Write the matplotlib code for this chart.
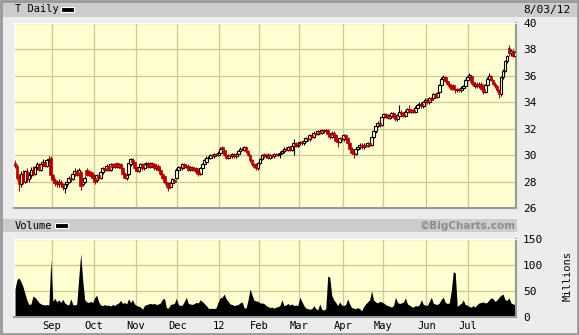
import matplotlib
matplotlib.use("Agg")
import matplotlib.pyplot as plt
import numpy as np
import pandas as pd
from matplotlib.patches import Rectangle

W, H = 579, 335
MONO = "DejaVu Sans Mono"

# trading days, Aug 5 2011 - Aug 3 2012 (NYSE holidays removed)
HOLIDAYS = ["2011-09-05", "2011-11-24", "2011-12-26", "2012-01-02", "2012-01-16",
            "2012-02-20", "2012-04-06", "2012-05-28", "2012-07-04"]
dates = pd.bdate_range("2011-08-05", "2012-08-03", freq="C", holidays=HOLIDAYS)

# --- daily OHLC (one line per month) ---
opens = [
    29.4, 29.2, 28.3, 27.8, 28.6, 28.0, 28.8, 28.2, 28.5, 28.9, 28.6, 29.1, 29.3, 28.9, 29.3, 29.5, 29.2, 29.6, 29.8,
    28.5, 28.1, 27.9, 27.8, 28.0, 27.8, 27.5, 27.8, 28.0, 28.3, 28.2, 28.6, 28.8, 28.5, 28.7, 27.8, 28.0, 28.9, 28.8, 28.7, 28.6,
    28.3, 28.1, 28.5, 28.3, 28.7, 29.0, 28.9, 29.2, 28.9, 29.3, 29.1, 29.4, 29.1, 29.3, 29.0, 28.6, 28.3, 28.6, 29.3, 29.6, 29.5,
    29.0, 28.8, 29.1, 29.3, 29.0, 29.3, 29.4, 29.1, 29.4, 29.3, 29.0, 29.2, 28.9, 28.6, 28.4, 28.0, 27.8, 27.6, 27.9, 28.1, 28.3,
    28.9, 29.1, 29.0, 29.3, 29.1, 29.2, 28.9, 29.1, 28.9, 29.0, 28.7, 28.6, 29.0, 29.3, 29.5, 29.8, 29.8, 30.0, 29.9, 30.1, 30.0,
    30.2, 30.6, 30.4, 30.0, 29.8, 30.0, 29.9, 30.1, 29.9, 30.1, 30.3, 30.5, 30.4, 30.6, 30.3, 30.0, 29.6, 29.3, 29.3, 29.0,
    29.4, 29.7, 30.1, 29.9, 30.1, 29.8, 30.0, 29.9, 30.1, 30.0, 30.1, 30.2, 30.3, 30.5, 30.4, 30.6, 30.4, 30.7, 30.9, 30.7,
    30.9, 31.0, 30.9, 31.1, 31.3, 31.2, 31.5, 31.4, 31.7, 31.6, 31.8, 31.7, 31.9, 31.8, 31.9, 31.6, 31.4, 31.7, 31.5, 31.1, 31.0, 31.3,
    31.2, 31.5, 31.3, 30.9, 30.5, 30.2, 30.1, 30.5, 30.6, 30.8, 30.6, 30.8, 30.7, 30.9, 30.8, 31.4, 31.8, 32.2, 32.4, 32.3,
    32.9, 33.1, 33.0, 32.8, 33.0, 33.2, 32.9, 32.7, 33.0, 33.3, 33.1, 33.0, 33.3, 33.5, 33.3, 33.4, 33.3, 33.6, 33.8, 33.9, 33.7, 34.0,
    34.2, 34.0, 34.3, 34.3, 34.6, 34.4, 34.8, 35.3, 35.8, 35.9, 35.6, 35.4, 35.3, 35.3, 35.0, 34.9, 35.0, 34.9, 35.1, 35.2, 35.7,
    35.9, 36.0, 35.5, 35.2, 35.4, 35.2, 35.4, 35.0, 34.8, 35.3, 35.8, 36.0, 35.7, 35.4, 35.2, 34.9, 34.6, 35.9, 36.4, 37.1, 38.1,
    37.7, 37.9, 37.5,
]
closes = [
    29.2, 28.3, 27.8, 28.6, 28.0, 28.8, 28.2, 28.5, 28.9, 28.6, 29.1, 29.3, 28.9, 29.3, 29.5, 29.2, 29.6, 29.7, 28.5,
    28.1, 27.9, 27.8, 28.0, 27.8, 27.6, 27.8, 28.0, 28.3, 28.2, 28.6, 28.8, 28.5, 28.9, 27.7, 28.2, 28.3, 28.5, 28.5, 28.4, 28.3,
    28.0, 28.5, 28.3, 28.7, 29.0, 28.9, 29.2, 28.9, 29.3, 29.1, 29.3, 29.1, 29.3, 29.0, 28.6, 28.3, 28.5, 29.4, 29.7, 29.5, 29.0,
    28.8, 29.1, 29.3, 29.0, 29.3, 29.4, 29.1, 29.4, 29.2, 29.0, 29.2, 28.9, 28.6, 28.3, 28.0, 27.8, 27.5, 27.9, 28.2, 28.0, 28.9,
    29.1, 29.0, 29.3, 29.1, 29.2, 28.9, 29.1, 28.9, 29.0, 28.7, 28.6, 29.0, 29.3, 29.6, 29.8, 29.8, 30.0, 29.9, 30.1, 30.0, 30.2,
    30.5, 30.5, 30.0, 29.8, 30.0, 29.9, 30.1, 29.9, 30.1, 30.3, 30.5, 30.4, 30.6, 30.3, 30.0, 29.6, 29.3, 29.1, 29.0, 29.4,
    29.7, 30.0, 29.9, 30.0, 29.8, 30.0, 29.9, 30.1, 30.0, 30.1, 30.2, 30.3, 30.5, 30.4, 30.6, 30.4, 30.7, 30.9, 30.7, 30.8,
    31.0, 30.9, 31.1, 31.3, 31.2, 31.5, 31.4, 31.7, 31.6, 31.8, 31.7, 31.9, 31.8, 31.9, 31.6, 31.4, 31.7, 31.5, 31.1, 31.0, 31.3, 31.2,
    31.5, 31.4, 30.9, 30.5, 30.2, 30.1, 30.5, 30.6, 30.8, 30.6, 30.8, 30.7, 30.9, 30.8, 31.4, 31.8, 32.2, 32.4, 32.3, 32.9,
    33.1, 33.0, 32.8, 33.0, 33.2, 32.9, 32.7, 33.0, 33.3, 33.1, 33.0, 33.3, 33.5, 33.3, 33.4, 33.3, 33.6, 33.8, 33.9, 33.7, 34.0, 34.2,
    34.0, 34.3, 34.2, 34.6, 34.4, 34.7, 35.3, 35.8, 35.9, 35.6, 35.4, 35.2, 35.0, 35.0, 34.9, 35.0, 34.9, 35.1, 35.2, 35.7, 35.9,
    36.1, 35.5, 35.3, 35.4, 35.2, 35.4, 35.0, 34.8, 35.3, 35.8, 36.0, 35.7, 35.4, 35.2, 34.9, 34.6, 35.9, 36.4, 37.1, 37.5, 37.7,
    37.9, 37.5, 37.8,
]
highs = [
    29.6, 29.3, 28.6, 28.8, 28.9, 28.9, 29.0, 28.7, 29.1, 29.2, 29.2, 29.5, 29.4, 29.4, 29.7, 29.6, 29.7, 29.9, 29.9,
    28.6, 28.3, 28.1, 28.2, 28.1, 27.9, 27.9, 28.2, 28.4, 28.5, 28.7, 29.0, 28.9, 29.0, 28.8, 28.3, 28.4, 29.0, 28.9, 28.8, 28.7,
    28.4, 28.6, 28.6, 28.8, 29.1, 29.1, 29.3, 29.3, 29.4, 29.4, 29.4, 29.5, 29.4, 29.4, 29.1, 28.7, 28.6, 29.5, 29.8, 29.8, 29.5,
    29.1, 29.2, 29.4, 29.4, 29.4, 29.5, 29.5, 29.5, 29.5, 29.3, 29.3, 29.3, 29.0, 28.7, 28.4, 28.1, 27.9, 28.0, 28.3, 28.2, 29.0,
    29.2, 29.2, 29.4, 29.4, 29.3, 29.3, 29.2, 29.2, 29.1, 29.1, 28.8, 29.1, 29.4, 29.7, 29.9, 29.9, 30.1, 30.1, 30.2, 30.2, 30.3,
    30.6, 30.7, 30.5, 30.1, 30.1, 30.1, 30.2, 30.2, 30.2, 30.4, 30.6, 30.6, 30.7, 30.7, 30.4, 30.1, 29.7, 29.4, 29.4, 29.5,
    29.8, 30.1, 30.2, 30.1, 30.2, 30.1, 30.1, 30.2, 30.2, 30.2, 30.3, 30.4, 30.6, 30.6, 30.7, 30.7, 30.8, 31.2, 31.0, 30.9,
    31.1, 31.1, 31.2, 31.4, 31.4, 31.6, 31.6, 31.8, 31.8, 31.9, 31.9, 32.0, 32.0, 32.0, 32.0, 31.7, 31.8, 31.8, 31.6, 31.2, 31.4, 31.5,
    31.6, 31.6, 31.4, 31.0, 30.6, 30.3, 30.6, 30.7, 30.9, 30.9, 30.9, 30.9, 31.0, 31.0, 31.5, 31.9, 32.3, 32.6, 32.5, 33.0,
    33.2, 33.2, 33.1, 33.1, 33.3, 33.3, 33.0, 33.1, 33.8, 33.4, 33.2, 33.4, 33.6, 33.8, 33.5, 33.5, 33.7, 33.9, 34.0, 34.0, 34.1, 34.3,
    34.3, 34.4, 34.4, 34.7, 34.7, 34.8, 35.4, 35.9, 36.1, 36.0, 35.7, 35.5, 35.4, 35.4, 35.1, 35.1, 35.1, 35.2, 35.3, 35.8, 36.0,
    36.2, 36.1, 35.6, 35.5, 35.5, 35.5, 35.5, 35.1, 35.4, 35.9, 36.2, 36.1, 35.8, 35.5, 35.3, 35.0, 36.0, 36.5, 37.2, 37.6, 38.3,
    38.0, 38.0, 37.9,
]
lows = [
    29.0, 28.1, 27.3, 27.6, 27.8, 27.9, 28.0, 28.0, 28.3, 28.4, 28.5, 28.9, 28.8, 28.8, 29.2, 29.1, 29.1, 29.4, 28.3,
    27.9, 27.7, 27.6, 27.6, 27.6, 27.4, 27.1, 27.6, 27.9, 28.0, 28.1, 28.4, 28.4, 28.4, 27.4, 27.7, 27.9, 28.4, 28.4, 28.3, 28.1,
    27.8, 28.0, 28.2, 28.2, 28.6, 28.8, 28.8, 28.8, 28.8, 29.0, 29.0, 29.0, 29.0, 28.9, 28.5, 28.2, 28.1, 28.5, 29.2, 29.4, 28.9,
    28.7, 28.7, 29.0, 28.9, 28.9, 29.2, 29.0, 29.0, 29.1, 28.9, 28.9, 28.8, 28.5, 28.2, 27.9, 27.6, 27.3, 27.5, 27.8, 27.9, 28.2,
    28.8, 28.9, 28.9, 29.0, 29.0, 28.8, 28.8, 28.8, 28.8, 28.6, 28.4, 28.5, 28.9, 29.2, 29.4, 29.6, 29.7, 29.8, 29.8, 29.9, 29.9,
    30.1, 30.3, 29.9, 29.7, 29.7, 29.8, 29.8, 29.8, 29.8, 30.0, 30.2, 30.3, 30.3, 30.2, 29.9, 29.5, 29.2, 29.0, 28.9, 28.9,
    29.3, 29.6, 29.8, 29.8, 29.7, 29.7, 29.8, 29.8, 29.9, 29.9, 29.8, 30.1, 30.2, 30.3, 30.3, 30.3, 30.3, 30.0, 30.6, 30.6,
    30.8, 30.8, 30.8, 31.0, 31.1, 31.1, 31.3, 31.3, 31.5, 31.5, 31.6, 31.6, 31.7, 31.7, 31.5, 31.2, 31.3, 31.4, 31.0, 30.6, 30.9, 31.1,
    31.1, 31.2, 30.8, 30.4, 30.1, 29.8, 30.0, 30.4, 30.5, 30.5, 30.5, 30.6, 30.6, 30.7, 30.7, 31.3, 31.7, 32.1, 32.1, 32.2,
    32.8, 32.9, 32.7, 32.7, 32.9, 32.8, 32.6, 32.6, 32.9, 33.0, 32.9, 32.9, 33.2, 33.2, 33.2, 33.2, 33.2, 33.5, 33.7, 33.6, 33.6, 33.9,
    33.9, 33.9, 34.1, 34.2, 34.3, 34.3, 34.7, 35.2, 35.7, 35.5, 35.3, 35.1, 34.9, 34.9, 34.7, 34.8, 34.8, 34.8, 35.0, 35.1, 35.6,
    35.8, 35.4, 35.2, 35.1, 35.1, 35.1, 34.9, 34.6, 34.7, 35.2, 35.7, 35.6, 35.3, 35.1, 34.8, 34.3, 34.5, 35.8, 36.3, 37.0, 37.5,
    37.5, 37.4, 37.4,
]
# volume, millions of shares
volume = [
    54, 72, 75, 68, 58, 45, 32, 24, 25, 40, 38, 33, 28, 25, 24, 23, 24, 23, 110,
    30, 36, 29, 33, 28, 34, 27, 24, 23, 35, 24, 23, 25, 75, 122, 70, 33, 29, 28, 30, 28,
    37, 42, 29, 23, 22, 24, 22, 23, 21, 24, 22, 25, 27, 32, 26, 28, 25, 35, 28, 33, 25,
    22, 21, 19, 15, 22, 24, 25, 26, 25, 26, 24, 25, 27, 34, 36, 18, 17, 24, 25, 26, 36,
    24, 22, 23, 30, 38, 26, 25, 24, 26, 28, 27, 33, 30, 26, 22, 17, 16, 17, 16, 18, 29,
    37, 38, 44, 35, 30, 25, 24, 22, 23, 24, 27, 29, 18, 17, 33, 54, 42, 32, 31, 30,
    27, 27, 26, 22, 20, 18, 19, 17, 19, 20, 22, 33, 22, 23, 26, 23, 25, 22, 23, 22,
    38, 30, 22, 17, 16, 15, 16, 22, 16, 14, 25, 15, 13, 16, 79, 76, 42, 33, 28, 22, 29, 23,
    22, 24, 35, 25, 18, 17, 16, 18, 16, 12, 20, 25, 29, 33, 50, 33, 29, 27, 30, 29,
    27, 24, 22, 21, 19, 22, 38, 28, 26, 27, 29, 37, 25, 23, 20, 19, 22, 21, 24, 33, 24, 23,
    22, 30, 38, 26, 25, 24, 27, 34, 38, 28, 26, 27, 50, 87, 85, 20, 24, 26, 33, 24, 23,
    20, 19, 22, 19, 24, 27, 28, 29, 27, 28, 33, 37, 35, 30, 33, 38, 42, 44, 33, 32, 37,
    27, 25, 24,
]
price_ticks = [26, 28, 30, 32, 34, 36, 38, 40]
volume_ticks = [0, 50, 100, 150]

BG = "#ececec"
PLOT_BG = "#ffffd2"
GRID = "#cccc99"
RED = "#b00000"

x = np.arange(len(dates))
# month boundaries (the few days of August 2012 at the right edge get no tick)
month_idx = [i for i in range(1, len(dates) - 5) if dates[i].month != dates[i - 1].month]
month_pos = [i - 0.5 for i in month_idx]
month_lab = ["12" if dates[i].month == 1 else dates[i].strftime("%b") for i in month_idx]


def fig_box(x0, y0, x1, y1):
    """pixel box (top-left origin) -> figure fraction [left, bottom, width, height]"""
    return [x0 / W, 1 - y1 / H, (x1 - x0) / W, (y1 - y0) / H]


def style_panel(ax):
    ax.set_facecolor(PLOT_BG)
    ax.set_xlim(-0.5, len(dates) - 0.5)
    ax.set_xticks(month_pos)
    ax.grid(True, color=GRID, lw=1)
    ax.set_axisbelow(True)
    ax.yaxis.tick_right()
    ax.tick_params(length=0, labelsize=8, pad=5)
    ax.spines["left"].set_color("white")
    ax.spines["top"].set_color("white")
    ax.spines["bottom"].set_color("#999999")
    ax.spines["right"].set_color("#999999")
    ax.spines["bottom"].set_linewidth(1.5)
    ax.spines["right"].set_linewidth(1.5)


fig = plt.figure(figsize=(W / 100, H / 100), dpi=100, facecolor=BG)

# grey title strips
for box in [fig_box(2, 2, 577, 17), fig_box(2, 219, 517, 232)]:
    fig.add_artist(Rectangle((box[0], box[1]), box[2], box[3], transform=fig.transFigure,
                             facecolor="#cccccc", edgecolor="none"))
# legend swatches
for box in [fig_box(61, 7, 74, 12), fig_box(55, 223, 68, 228)]:
    fig.add_artist(Rectangle((box[0], box[1]), box[2], box[3], transform=fig.transFigure,
                             facecolor="black", edgecolor="white", lw=0.8))
fig.add_artist(Rectangle((0.002, 0.003), 0.996, 0.994, transform=fig.transFigure,
                         facecolor="none", edgecolor="#999999", lw=2))

fig.text(15 / W, 1 - 9.5 / H, "T Daily", family=MONO, fontsize=7.5, va="center")
fig.text(523 / W, 1 - 9.5 / H, "8/03/12", family=MONO, fontsize=8, va="center")
fig.text(15 / W, 1 - 226 / H, "Volume", family=MONO, fontsize=7.5, va="center")
fig.text(516 / W, 1 - 226 / H, "\u00a9BigCharts.com", fontsize=7.5, weight="bold",
         color="#8c8c8c", ha="right", va="center")
fig.text(568 / W, 1 - 276 / H, "Millions", family=MONO, fontsize=7.5,
         rotation=90, ha="center", va="center")

# --- price panel ---
ax = fig.add_axes(fig_box(14, 23, 516, 208))
style_panel(ax)
ax.set_ylim(26, 40)
ax.set_yticks(price_ticks)
ax.set_yticklabels([str(t) for t in price_ticks], family=MONO)
ax.set_xticklabels([])

o = np.array(opens)
c = np.array(closes)
up = c >= o
ax.vlines(x[up], np.array(lows)[up], np.array(highs)[up], color="black", lw=0.8, zorder=2)
ax.vlines(x[~up], np.array(lows)[~up], np.array(highs)[~up], color=RED, lw=0.8, zorder=2)
ax.bar(x[up], (c - o)[up], bottom=o[up], width=1.4, facecolor=PLOT_BG,
       edgecolor="black", lw=0.8, zorder=3)
ax.bar(x[~up], (c - o)[~up], bottom=o[~up], width=1.4, facecolor=RED,
       edgecolor=RED, lw=0.5, zorder=3)

# --- volume panel ---
av = fig.add_axes(fig_box(14, 239, 516, 317))
style_panel(av)
av.set_ylim(0, 150)
av.set_yticks(volume_ticks)
av.set_yticklabels([str(t) for t in volume_ticks], family=MONO)
av.set_xticklabels(month_lab, family=MONO, fontsize=7.5)
av.tick_params(axis="x", pad=3)
av.fill_between(x, volume, color="black", lw=0, zorder=2)

fig.savefig("out.png", dpi=100, facecolor=BG)
